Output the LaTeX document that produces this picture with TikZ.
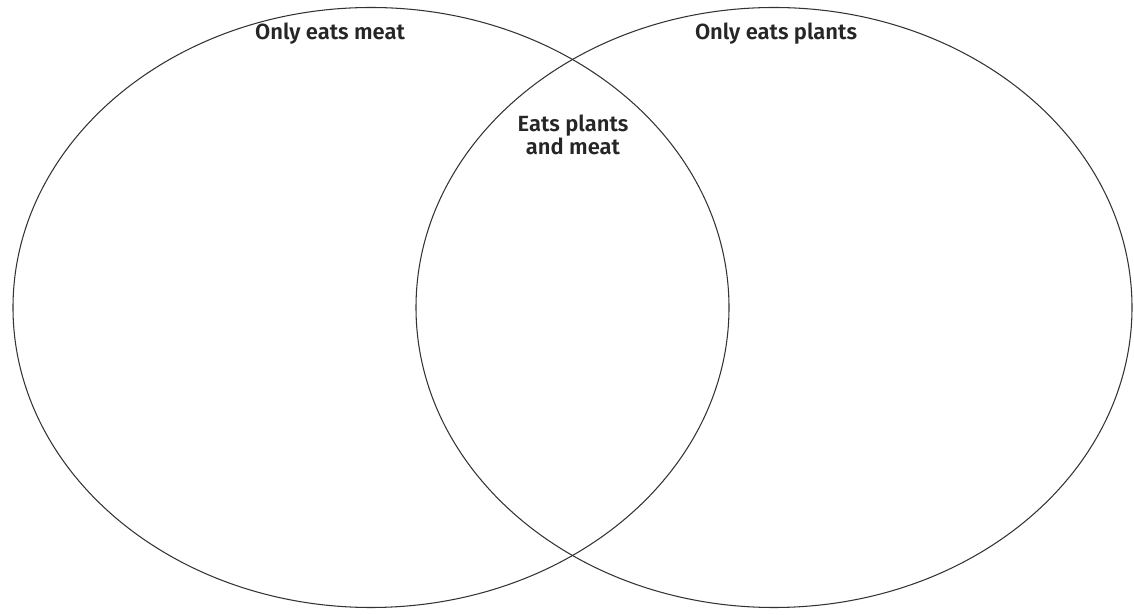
\documentclass[tikz,border=0pt]{standalone}
\usepackage{fontspec}
\setmainfont{Fira Sans}[UprightFont=* Medium, BoldFont=* SemiBold]
\usetikzlibrary{shapes.geometric}
\tikzset{
  set/.style={ellipse,draw=black!80,line width=0.6pt,minimum width=14.32cm,minimum height=12cm,inner sep=0pt},
  lbl/.style={font=\bfseries\fontsize{12.5}{15}\selectfont,text=black!85,align=center}
}
\begin{document}
\begin{tikzpicture}
\useasboundingbox (0,0) rectangle (22.68,12.3);
\node[set] (meat) at (7.42,6.15) {};
\node[set] (plants) at (15.48,6.15) {};
\node[lbl] (meatlbl) at (6.6,11.62) {Only eats meat};
\node[lbl] (plantslbl) at (15.52,11.62) {Only eats plants};
\node[lbl] (bothlbl) at (11.46,9.6) {Eats plants\\[-2pt]and meat};
\end{tikzpicture}
\end{document}
